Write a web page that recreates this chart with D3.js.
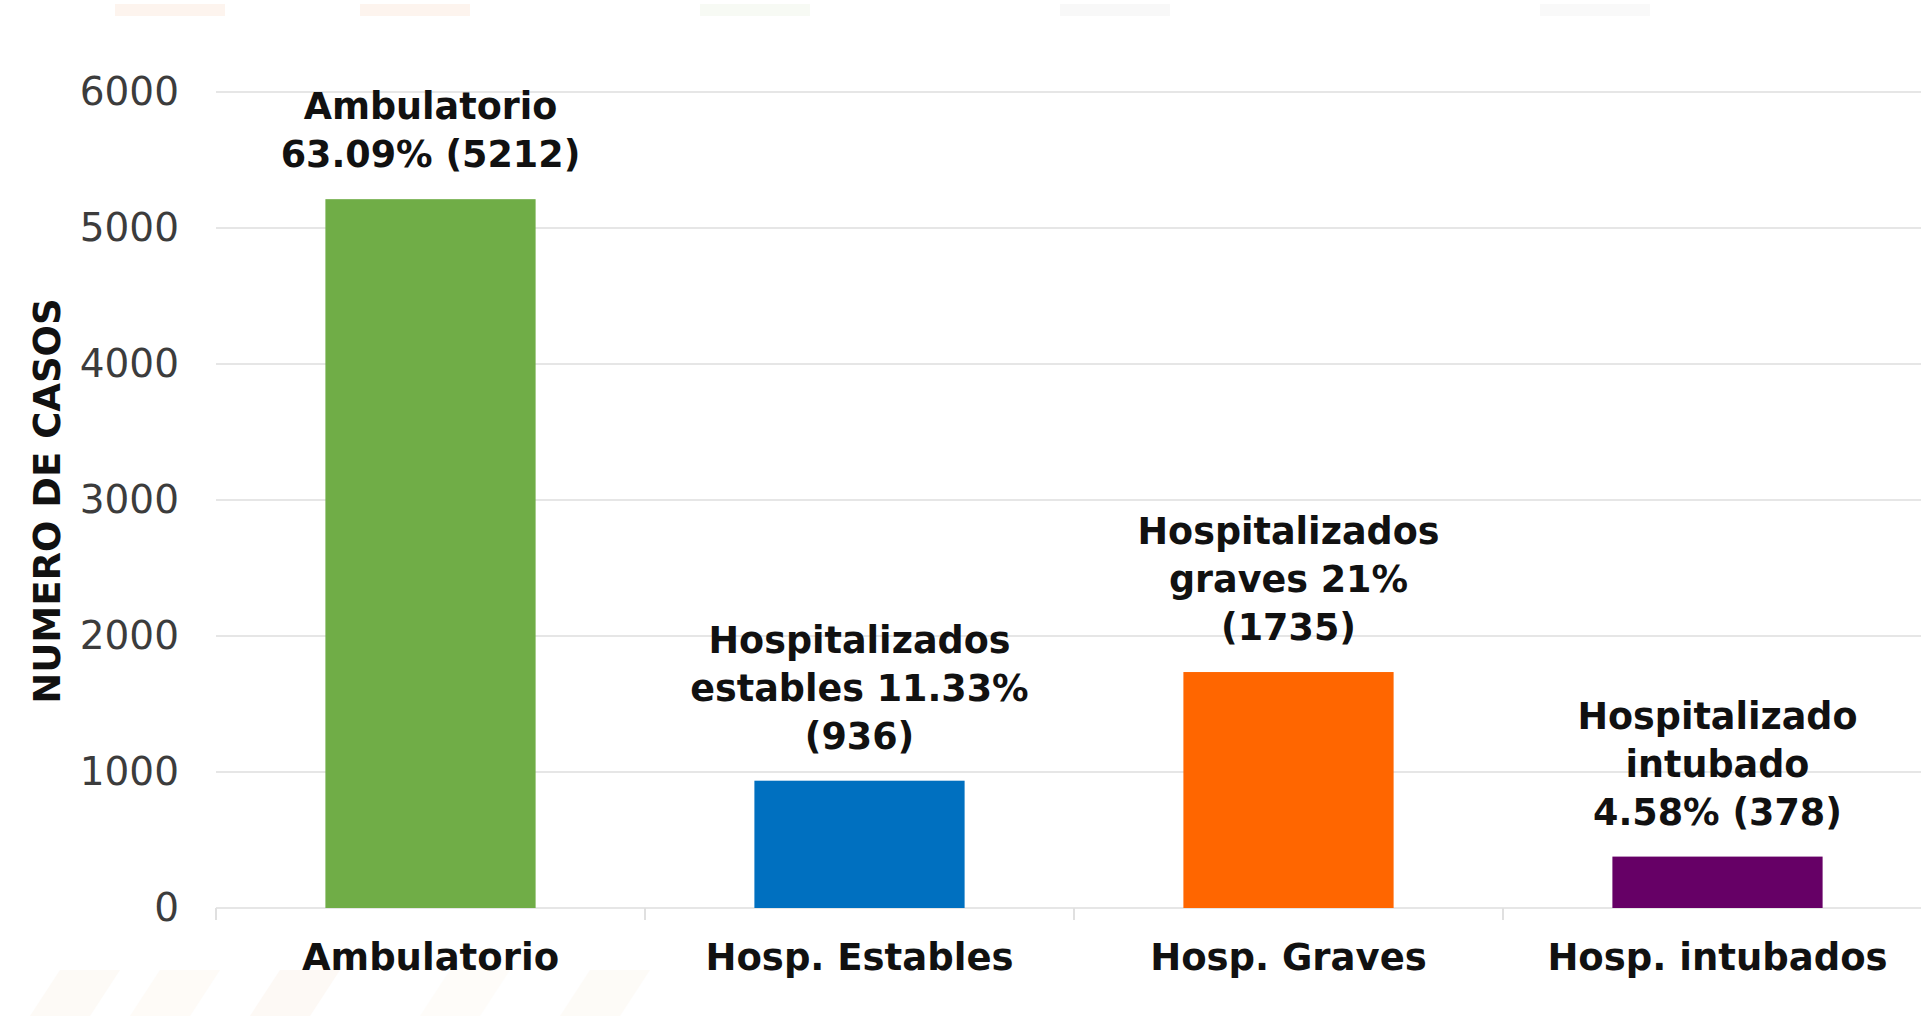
<!DOCTYPE html>
<html>
<head>
<meta charset="utf-8">
<script src="https://cdn.jsdelivr.net/npm/d3@7"></script>
<style>
  body { margin: 0; background: #fff; }
  svg { display: block; }
  .tick text { font-family: "DejaVu Sans", sans-serif; }
</style>
</head>
<body>
<div id="chart"></div>
<script>
(function bars() {

  var categories = ["Ambulatorio", "Hosp. Estables", "Hosp. Graves", "Hosp. intubados"];
  var cases = [5212, 936, 1735, 378];
  var barLabels = [
    ["Ambulatorio", "63.09% (5212)"],
    ["Hospitalizados", "estables 11.33%", "(936)"],
    ["Hospitalizados", "graves 21%", "(1735)"],
    ["Hospitalizado", "intubado", "4.58% (378)"]
  ];
  var yTicks = [0, 1000, 2000, 3000, 4000, 5000, 6000];
  var colors = ["#70ad47", "#0070c0", "#ff6600", "#660066"];

  var W = 1921, H = 1016;
  var margin = { top: 92, left: 216, bottom: 108 },
    plotW = 429 * 4,
    plotH = H - margin.top - margin.bottom;

  var svg = d3.select("#chart").append("svg")
    .attr("width", W)
    .attr("height", H);

  // faint template stripes at the bottom / top
  var stripes = svg.append("g").attr("opacity", 0.06);
  [[30, "#e8b070"], [130, "#f0c080"], [250, "#e8a060"], [420, "#f3d9a8"], [560, "#eec28a"]].forEach(function(s) {
    stripes.append("polygon")
      .attr("points", (s[0]) + ",1016 " + (s[0] + 60) + ",1016 " + (s[0] + 90) + ",970 " + (s[0] + 30) + ",970")
      .attr("fill", s[1]);
  });
  [[115, "#f3c9a8"], [360, "#f3c9a8"], [700, "#d9e6c8"], [1060, "#dddddd"], [1540, "#e0e0e0"]].forEach(function(s) {
    svg.append("rect")
      .attr("x", s[0]).attr("y", 4)
      .attr("width", 110).attr("height", 12)
      .attr("fill", s[1]).attr("opacity", 0.2);
  });

  var g = svg.append("g")
    .attr("transform", "translate(" + margin.left + "," + margin.top + ")");

  var x = d3.scaleBand()
    .domain(categories)
    .range([0, plotW])
    .paddingInner(0.51)
    .paddingOuter(0.255);

  var y = d3.scaleLinear()
    .domain([0, 6000])
    .range([plotH, 0]);

  // gridlines
  g.append("g")
    .selectAll("line")
    .data(yTicks)
    .enter()
    .append("line")
    .attr("x1", 0)
    .attr("x2", plotW)
    .attr("y1", function(d) { return y(d); })
    .attr("y2", function(d) { return y(d); })
    .attr("stroke", "#e6e6e6")
    .attr("stroke-width", 2);

  // y axis labels
  var yAxis = g.append("g")
    .call(d3.axisLeft(y).tickValues(yTicks).tickSize(0).tickPadding(37).tickFormat(d3.format("d")));
  yAxis.select(".domain").remove();
  yAxis.selectAll("text")
    .attr("font-size", 39)
    .attr("fill", "#3c3c3c");

  // x axis with band boundary ticks
  var bounds = x.domain().map(function(d) { return x(d) - x.step() * x.paddingInner() / 2; });
  bounds[0] = 0;
  g.append("g")
    .selectAll("line")
    .data(bounds)
    .enter()
    .append("line")
    .attr("x1", function(d) { return d; })
    .attr("x2", function(d) { return d; })
    .attr("y1", plotH)
    .attr("y2", plotH + 12)
    .attr("stroke", "#e0e0e0")
    .attr("stroke-width", 2);

  var xAxis = g.append("g")
    .attr("transform", "translate(0," + plotH + ")")
    .call(d3.axisBottom(x).tickSize(0).tickPadding(36));
  xAxis.select(".domain").remove();
  xAxis.selectAll("text")
    .attr("font-size", 37)
    .attr("font-weight", "bold")
    .attr("fill", "#111");

  // bars
  g.selectAll(".bar")
    .data(cases)
    .enter()
    .append("rect")
    .attr("class", "bar")
    .attr("x", function(d, i) { return x(categories[i]); })
    .attr("width", x.bandwidth())
    .attr("y", function(d) { return y(d); })
    .attr("height", function(d) { return plotH - y(d); })
    .attr("fill", function(d, i) { return colors[i]; });

  // labels above bars
  var lineH = 48;
  var labels = g.selectAll(".barlabel")
    .data(cases)
    .enter()
    .append("text")
    .attr("class", "barlabel")
    .attr("text-anchor", "middle")
    .attr("font-family", "DejaVu Sans, sans-serif")
    .attr("font-size", 36.5)
    .attr("font-weight", "bold")
    .attr("fill", "#111");

  labels.each(function(d, i) {
    var lines = barLabels[i];
    var cx = x(categories[i]) + x.bandwidth() / 2;
    var last = y(d) - 32;
    d3.select(this).selectAll("tspan")
      .data(lines)
      .enter()
      .append("tspan")
      .attr("x", cx)
      .attr("y", function(t, j) { return last - (lines.length - 1 - j) * lineH; })
      .text(function(t) { return t; });
  });

  // y axis title
  svg.append("text")
    .text("NUMERO DE CASOS")
    .attr("font-family", "DejaVu Sans, sans-serif")
    .attr("font-size", 37)
    .attr("font-weight", "bold")
    .attr("fill", "#111")
    .attr("text-anchor", "middle")
    .attr("transform", "translate(60,501) rotate(-90)");
})();
</script>
</body>
</html>
